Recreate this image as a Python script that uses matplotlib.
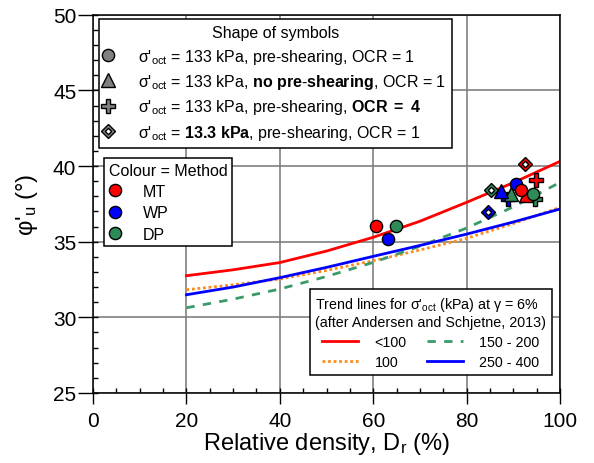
import matplotlib
matplotlib.use("Agg")
import matplotlib.pyplot as plt
from matplotlib.lines import Line2D
from matplotlib.legend_handler import HandlerTuple
from matplotlib.ticker import MultipleLocator

plt.rcParams['font.family'] = ['Liberation Sans', 'DejaVu Sans']
plt.rcParams['mathtext.fontset'] = 'custom'
plt.rcParams['mathtext.rm'] = 'Liberation Sans'
plt.rcParams['mathtext.it'] = 'Liberation Sans:italic'
plt.rcParams['mathtext.bf'] = 'Liberation Sans:bold'

# ---------------- data ----------------
methods = ['MT', 'WP', 'DP']
method_colors = {'MT': '#FF0000', 'WP': '#0000FF', 'DP': '#2E8B57'}

# circles: sigma'oct = 133 kPa, pre-shearing, OCR = 1
circle_x = {'MT': [60.5, 91.7], 'WP': [63.1, 90.5], 'DP': [64.8, 94.2]}
circle_y = {'MT': [36.05, 38.43], 'WP': [35.18, 38.8], 'DP': [36.05, 38.17]}
# triangles: no pre-shearing
tri_x = {'MT': [92.8], 'WP': [87.4], 'DP': [89.6]}
tri_y = {'MT': [38.06], 'WP': [38.35], 'DP': [38.17]}
# plus: OCR = 4
plus_x = {'MT': [94.9], 'WP': [88.9], 'DP': [94.6]}
plus_y = {'MT': [39.06], 'WP': [37.8], 'DP': [37.84]}
# diamonds: 13.3 kPa
dia_x = {'MT': [92.5], 'WP': [84.6], 'DP': [85.2]}
dia_y = {'MT': [40.13], 'WP': [36.94], 'DP': [38.41]}

# trend lines (Andersen and Schjetne, 2013)
trend_dr = [20, 30, 40, 50, 60, 70, 80, 90, 100]
trend_lt100 = [32.75, 33.14, 33.62, 34.38, 35.29, 36.35, 37.60, 38.90, 40.31]
trend_100 = [31.82, 32.15, 32.53, 33.10, 33.74, 34.45, 35.22, 36.20, 37.27]
trend_150_200 = [30.63, 31.20, 31.87, 32.70, 33.63, 34.70, 35.90, 37.30, 38.92]
trend_250_400 = [31.49, 32.00, 32.62, 33.30, 34.03, 34.75, 35.50, 36.30, 37.16]

# ---------------- figure ----------------
fig = plt.figure(figsize=(5.94, 4.64), dpi=100)
ax = fig.add_axes([0.1566, 0.151, 0.7862, 0.815])
ax.set_xlim(0, 100)
ax.set_ylim(25, 50)
ax.xaxis.set_major_locator(MultipleLocator(20))
ax.xaxis.set_minor_locator(MultipleLocator(5))
ax.yaxis.set_major_locator(MultipleLocator(5))
ax.yaxis.set_minor_locator(MultipleLocator(1))
ax.xaxis.remove_overlapping_locs = False
ax.yaxis.remove_overlapping_locs = False
ax.tick_params(axis='y', which='major', direction='out', length=10.5, width=1, labelsize=15, pad=1.5)
ax.tick_params(axis='x', which='major', direction='out', length=8, width=1, labelsize=15, pad=5)
ax.tick_params(which='minor', direction='in', length=3.8, width=1)
ax.grid(True, which='major', color='#808080', lw=1.2, zorder=0)
ax.set_axisbelow(True)
for s in ax.spines.values():
    s.set_linewidth(1.1)

ax.set_xlabel("Relative density, D$_{\\rm r}$ (%)", fontsize=17, labelpad=0)
ax.set_ylabel("φ'$_{\\rm u}$ (°)", fontsize=17, labelpad=9)

# trend lines
l1, = ax.plot(trend_dr, trend_lt100, color='#FF0000', lw=2, zorder=2)
l2, = ax.plot(trend_dr, trend_100, color='#FF8C1A', lw=2, ls=(0, (1, 1)), zorder=2)
l3, = ax.plot(trend_dr, trend_150_200, color='#3A9A6A', lw=2, ls=(0, (3, 3)), zorder=2)
l4, = ax.plot(trend_dr, trend_250_400, color='#0000FF', lw=2, zorder=2)

# markers
ms_c, ms_t, ms_p, ms_d = 8.8, 10, 10.5, 7.2
for m in ['WP', 'DP']:
    ax.plot(plus_x[m], plus_y[m], 'P', color=method_colors[m], mec='black', mew=1, ms=ms_p, ls='none', zorder=3)
for m in ['DP', 'MT', 'WP']:
    ax.plot(tri_x[m], tri_y[m], '^', color=method_colors[m], mec='black', mew=1, ms=ms_t, ls='none', zorder=4)
for m in ['DP', 'WP', 'MT']:
    ax.plot(circle_x[m], circle_y[m], 'o', color=method_colors[m], mec='black', mew=1, ms=ms_c, ls='none', zorder=5)
ax.plot(plus_x['MT'], plus_y['MT'], 'P', color=method_colors['MT'], mec='black', mew=1, ms=ms_p, ls='none', zorder=6)
for m in methods:
    ax.plot(dia_x[m], dia_y[m], 'D', color=method_colors[m], mec='black', mew=1, ms=ms_d, ls='none', zorder=6)
    ax.plot(dia_x[m], dia_y[m], 'D', color='white', mec='black', mew=1, ms=ms_d * 0.45, ls='none', zorder=7)

# ---------------- legends ----------------
grey = '#808080'
h_c = Line2D([], [], marker='o', color=grey, mec='black', mew=1, ms=ms_c, ls='none')
h_t = Line2D([], [], marker='^', color=grey, mec='black', mew=1, ms=ms_t, ls='none')
h_p = Line2D([], [], marker='P', color=grey, mec='black', mew=1, ms=ms_p, ls='none')
h_d1 = Line2D([], [], marker='D', color=grey, mec='black', mew=1, ms=ms_d, ls='none')
h_d2 = Line2D([], [], marker='D', color='white', mec='black', mew=1, ms=ms_d * 0.45, ls='none')
shape_labels = [
    "σ'$_{\\rm oct}$ = 133 kPa, pre-shearing, OCR = 1",
    "σ'$_{\\rm oct}$ = 133 kPa, $\\bf{no\\ pre}$-$\\bf{shearing}$, OCR = 1",
    "σ'$_{\\rm oct}$ = 133 kPa, pre-shearing, $\\bf{OCR\\ =\\ 4}$",
    "σ'$_{\\rm oct}$ = $\\bf{13.3\\ kPa}$, pre-shearing, OCR = 1",
]
leg1 = ax.legend([h_c, h_t, h_p, (h_d1, h_d2)], shape_labels,
                 handler_map={tuple: HandlerTuple(ndivide=1)},
                 loc='upper left', bbox_to_anchor=(0.013, 0.988), fontsize=11.5,
                 title="Shape of symbols", title_fontsize=11.5,
                 frameon=True, fancybox=False, edgecolor='black', framealpha=1,
                 handlelength=0.4, handletextpad=1.65, borderpad=0.37, labelspacing=0.4,
                 borderaxespad=0)
leg1.get_frame().set_linewidth(1.1)
leg1.set_zorder(10)
ax.add_artist(leg1)

col_handles = [Line2D([], [], marker='o', color=method_colors[m], mec='black', mew=1, ms=ms_c, ls='none')
               for m in methods]
leg2 = ax.legend(col_handles, methods, loc='upper left', bbox_to_anchor=(0.0236, 0.622),
                 fontsize=11.5, title="Colour = Method", title_fontsize=11.5,
                 frameon=True, fancybox=False, edgecolor='black', framealpha=1,
                 handlelength=0.83, handletextpad=1.28, borderpad=0.3, labelspacing=0.4,
                 borderaxespad=0)
leg2._legend_box.align = 'left'
leg2.get_frame().set_linewidth(1.1)
leg2.set_zorder(10)
ax.add_artist(leg2)

leg3 = ax.legend([l1, l2, l3, l4], ['<100', '100', '150 - 200', '250 - 400'], ncol=2,
                 loc='lower right', bbox_to_anchor=(0.983, 0.048),
                 fontsize=10.3,
                 title="Trend lines for σ'$_{\\rm oct}$ (kPa) at γ = 6%\n(after Andersen and Schjetne, 2013)",
                 title_fontsize=10.3,
                 frameon=True, fancybox=False, edgecolor='black', framealpha=1,
                 handlelength=2.5, handletextpad=1.17, borderpad=0.4, labelspacing=0.42,
                 columnspacing=1.4, borderaxespad=0)
leg3.get_frame().set_linewidth(1.1)
leg3.set_zorder(10)

fig.savefig("out.png", dpi=100)
